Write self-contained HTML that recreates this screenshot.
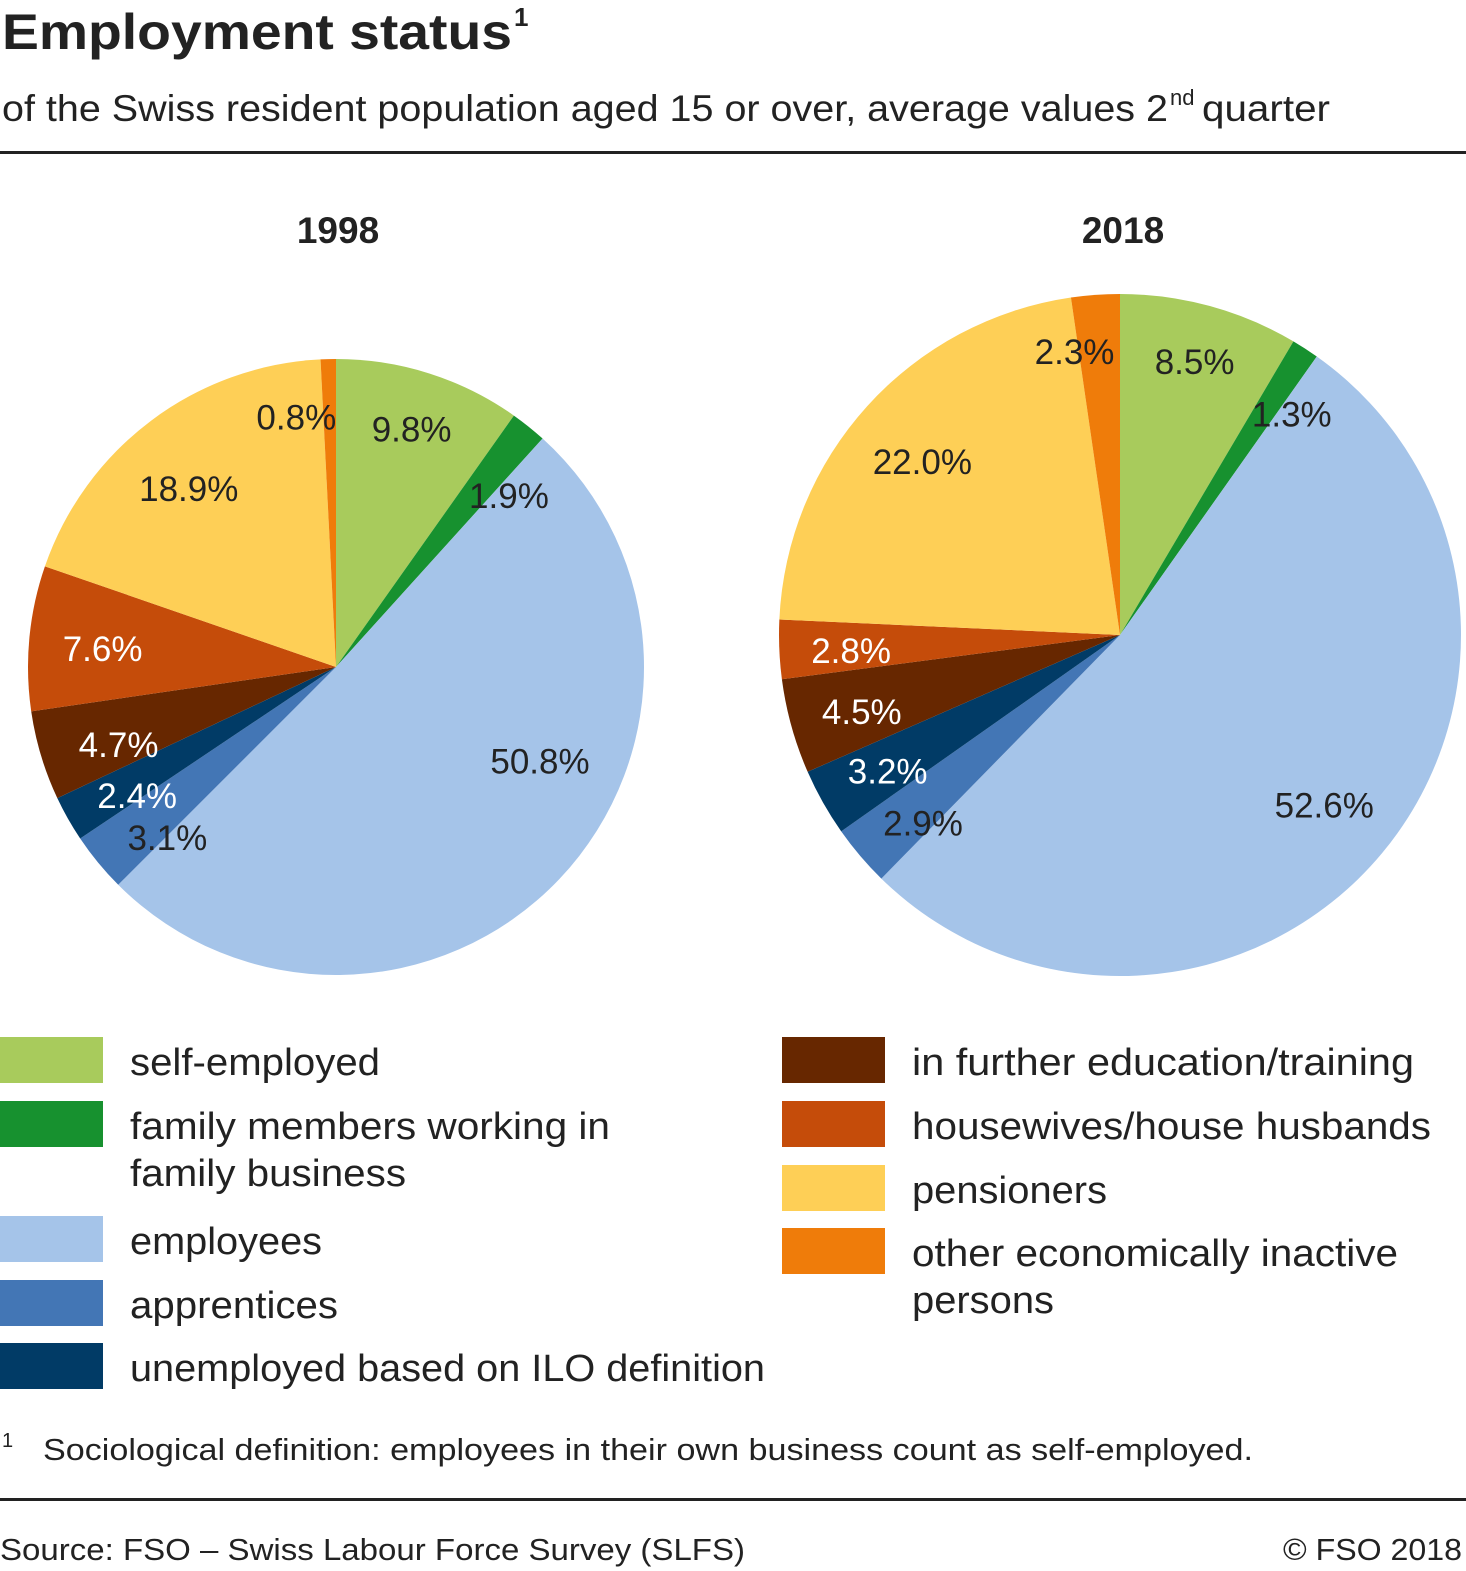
<!DOCTYPE html>
<html><head><meta charset="utf-8"><style>
html,body{margin:0;padding:0;background:#fff}
svg{display:block;font-family:"Liberation Sans",sans-serif}
</style></head><body>
<svg id="chart" width="1466" height="1571" viewBox="0 0 1466 1571" xmlns="http://www.w3.org/2000/svg">
<text x="2" y="49" font-size="50" font-weight="bold" fill="#222" textLength="510" lengthAdjust="spacingAndGlyphs">Employment status</text>
<text x="514" y="26" font-size="26" font-weight="bold" fill="#222">1</text>
<text x="2" y="121" font-size="37" fill="#222" textLength="1166" lengthAdjust="spacingAndGlyphs">of the Swiss resident population aged 15 or over, average values 2</text>
<text x="1170" y="105" font-size="22" fill="#222">nd</text>
<text x="1202" y="121" font-size="37" fill="#222" textLength="128" lengthAdjust="spacingAndGlyphs">quarter</text>
<rect x="0" y="151" width="1466" height="3" fill="#222"/>
<text x="338" y="243" font-size="37" font-weight="bold" fill="#222" text-anchor="middle">1998</text>
<text x="1123" y="243" font-size="37" font-weight="bold" fill="#222" text-anchor="middle">2018</text>
<g id="pies"></g>
<g id="legend"></g>
<text x="2" y="1447" font-size="20" fill="#222">1</text>
<text x="43" y="1460" font-size="31" fill="#222" textLength="1210" lengthAdjust="spacingAndGlyphs">Sociological definition: employees in their own business count as self-employed.</text>
<rect x="0" y="1498" width="1466" height="3" fill="#222"/>
<text x="0" y="1560" font-size="31" fill="#222" textLength="745" lengthAdjust="spacingAndGlyphs">Source: FSO – Swiss Labour Force Survey (SLFS)</text>
<text x="1462" y="1560" font-size="31" fill="#222" text-anchor="end" textLength="179" lengthAdjust="spacingAndGlyphs">© FSO 2018</text>
</svg>
<script>
const categories = ["self-employed","family members working in family business","employees","apprentices","unemployed based on ILO definition","in further education/training","housewives/house husbands","pensioners","other economically inactive persons"];
const values1998 = [9.8,1.9,50.8,3.1,2.4,4.7,7.6,18.9,0.8];
const values2018 = [8.5,1.3,52.6,2.9,3.2,4.5,2.8,22.0,2.3];
const labels1998 = ["9.8%","1.9%","50.8%","3.1%","2.4%","4.7%","7.6%","18.9%","0.8%"];
const labels2018 = ["8.5%","1.3%","52.6%","2.9%","3.2%","4.5%","2.8%","22.0%","2.3%"];
const colors = ["#a8cb5c","#17912f","#a5c4e9","#4376b5","#013b66","#672700","#c54c0a","#fecf56","#ef7c0a"];
const textColors = ["#222","#222","#222","#222","#fff","#fff","#fff","#222","#222"];
// label layout styling: radial factor and angular nudge (degrees)
const radF1998 = [0.81,0.79,0.73,0.78,0.77,0.75,0.76,0.75,0.82];
const angS1998 = [0,6.6,-18.7,-6,-3.5,-3,-1,-2.7,-7.6];
const radF2018 = [0.83,0.82,0.78,0.80,0.79,0.79,0.79,0.77,0.84];
const angS2018 = [0,5,0,-3.4,-1,-1,-1,-1,-5];
const NS="http://www.w3.org/2000/svg";
const pies=document.getElementById('pies');
function drawPie(vals,labels,radF,angS,cx,cy,r,name){
  const total=vals.reduce((a,b)=>a+b,0);
  let acc=0;
  vals.forEach((v,i)=>{
    const a0=acc/total*2*Math.PI; acc+=v; const a1=acc/total*2*Math.PI;
    const x0=cx+r*Math.sin(a0), y0=cy-r*Math.cos(a0), x1=cx+r*Math.sin(a1), y1=cy-r*Math.cos(a1);
    const p=document.createElementNS(NS,'path');
    p.setAttribute('d',`M${cx},${cy} L${x0},${y0} A${r},${r} 0 ${a1-a0>Math.PI?1:0} 1 ${x1},${y1} Z`);
    p.setAttribute('fill',colors[i]);
    
    
    pies.appendChild(p);
  });
  acc=0;
  vals.forEach((v,i)=>{
    const am=(acc+v/2)/total*2*Math.PI + angS[i]*Math.PI/180; acc+=v;
    const f = radF[i];
    const t=document.createElementNS(NS,'text');
    t.setAttribute('x',cx+f*r*Math.sin(am));
    t.setAttribute('y',cy-f*r*Math.cos(am)+12);
    t.setAttribute('text-anchor','middle');
    t.setAttribute('font-size','35');
    t.setAttribute('fill',textColors[i]);
    t.textContent=labels[i];
    
    
    pies.appendChild(t);
  });
}
drawPie(values1998,labels1998,radF1998,angS1998,336,667,308,'pie-1998');
drawPie(values2018,labels2018,radF2018,angS2018,1120,635,341,'pie-2018');
const legend=document.getElementById('legend');
const legendItems=[
 {i:0,x:0,y:1037,lines:["self-employed"],w:[250]},
 {i:1,x:0,y:1101,lines:["family members working in","family business"],w:[480,276]},
 {i:2,x:0,y:1216,lines:["employees"],w:[192]},
 {i:3,x:0,y:1280,lines:["apprentices"],w:[208]},
 {i:4,x:0,y:1343,lines:["unemployed based on ILO definition"],w:[635]},
 {i:5,x:782,y:1037,lines:["in further education/training"],w:[502]},
 {i:6,x:782,y:1101,lines:["housewives/house husbands"],w:[519]},
 {i:7,x:782,y:1165,lines:["pensioners"],w:[195]},
 {i:8,x:782,y:1228,lines:["other economically inactive","persons"],w:[486,142]}
];
legendItems.forEach(it=>{
  const g=document.createElementNS(NS,'g');
  
  
  const r=document.createElementNS(NS,'rect');
  r.setAttribute('x',it.x);r.setAttribute('y',it.y);r.setAttribute('width',103);r.setAttribute('height',46);r.setAttribute('fill',colors[it.i]);
  
  
  g.appendChild(r);
  it.lines.forEach((ln,k)=>{
    const t=document.createElementNS(NS,'text');
    t.setAttribute('x',it.x+130);t.setAttribute('y',it.y+38+k*47);
    t.setAttribute('font-size','38');t.setAttribute('fill','#222');
    t.setAttribute('textLength',it.w[k]);t.setAttribute('lengthAdjust','spacingAndGlyphs');
    t.textContent=ln;
    
    
    g.appendChild(t);
  });
  legend.appendChild(g);
});
</script>
</body></html>
